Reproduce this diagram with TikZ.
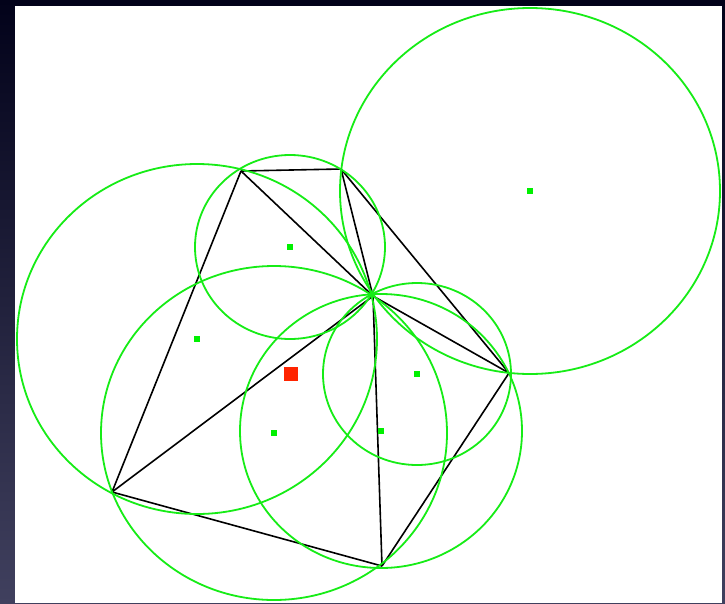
\documentclass[tikz,border=0pt]{standalone}
\usetikzlibrary{positioning}
\definecolor{frametop}{RGB}{2,2,26}
\definecolor{framebottom}{RGB}{64,64,94}
\definecolor{circgreen}{RGB}{22,236,22}
\definecolor{markgreen}{RGB}{0,240,0}
\definecolor{queryred}{RGB}{255,36,0}
\tikzset{
  triedge/.style={draw=black, line width=1.6pt},
  circum/.style={draw=circgreen, line width=1.8pt},
  centermark/.style={fill=markgreen, inner sep=0pt, minimum size=6.5pt},
  querymark/.style={fill=queryred, inner sep=0pt, minimum size=13.5pt}
}
\begin{document}
\begin{tikzpicture}[x=1pt,y=-1pt]
% frame and canvas
\shade[top color=frametop, bottom color=framebottom] (0,0) rectangle (725,603);
\fill[white] (15,6) rectangle (722,603);
\useasboundingbox (0,0) rectangle (725,603);
% vertices of the triangulation
\coordinate (vA) at (241,171);
\coordinate (vB) at (341,169);
\coordinate (vC) at (373,296);
\coordinate (vD) at (509,373);
\coordinate (vE) at (112,492);
\coordinate (vF) at (382,566);
% edges
\foreach \p/\q in {vA/vB, vA/vC, vB/vC, vB/vD, vC/vD, vA/vE, vE/vC, vC/vF, vE/vF, vF/vD}
  \draw[triedge] (\p) -- (\q);
% circumcircle centres
\node[centermark] (cLeft) at (197,339) {};
\node[centermark] (cTop) at (290,247) {};
\node[centermark] (cRight) at (530,191) {};
\node[centermark] (cLow) at (274,433) {};
\node[centermark] (cMid) at (381,431) {};
\node[centermark] (cSmall) at (417,374) {};
% circumcircles (screen is slightly stretched sideways)
\draw[circum] (cLeft) ellipse[x radius=180pt, y radius=175pt];
\draw[circum] (cTop) ellipse[x radius=95pt, y radius=92pt];
\draw[circum] (cRight) ellipse[x radius=190pt, y radius=183pt];
\draw[circum] (cLow) ellipse[x radius=173pt, y radius=167pt];
\draw[circum] (cMid) ellipse[x radius=141pt, y radius=137pt];
\draw[circum] (cSmall) ellipse[x radius=94pt, y radius=91pt];
% query point
\node[querymark] (query) at (291,374) {};
\end{tikzpicture}
\end{document}
